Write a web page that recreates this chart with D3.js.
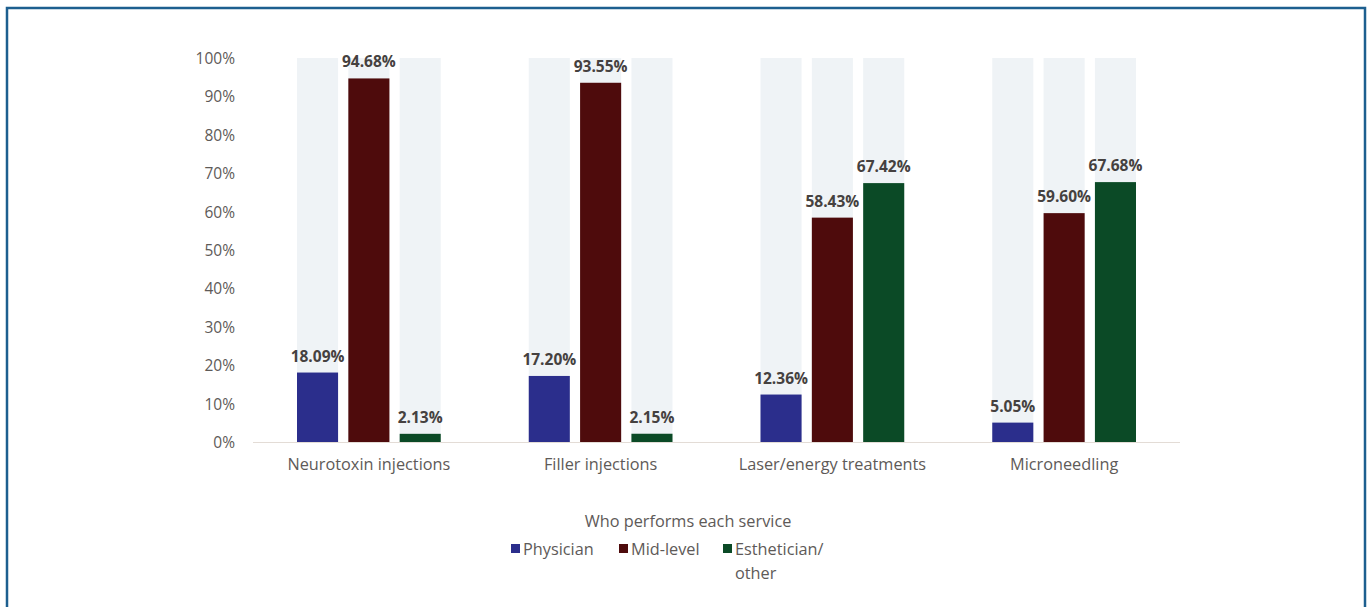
<!DOCTYPE html>
<html>
<head>
<meta charset="utf-8">
<script src="https://cdn.jsdelivr.net/npm/d3@7"></script>
<style>
  html, body { margin: 0; padding: 0; background: #ffffff; }
  svg { display: block; }
  text { font-family: "Open Sans", "Noto Sans", sans-serif; }
</style>
</head>
<body>
<svg id="chart" width="1369" height="607"></svg>
<script>
// Services and the share of practices where each role performs them
const services = ["Neurotoxin injections", "Filler injections", "Laser/energy treatments", "Microneedling"];
const roles = ["Physician", "Mid-level", "Esthetician/other"];
const physician = [18.09, 17.20, 12.36, 5.05];
const midLevel = [94.68, 93.55, 58.43, 59.60];
const esthetician = [2.13, 2.15, 67.42, 67.68];
const yTicks = [0, 10, 20, 30, 40, 50, 60, 70, 80, 90, 100];
const legendTitle = "Who performs each service";

const colors = { "Physician": "#2b2e8c", "Mid-level": "#4e0b0c", "Esthetician/other": "#0b4a26" };
const seriesByRole = { "Physician": physician, "Mid-level": midLevel, "Esthetician/other": esthetician };

const svg = d3.select("#chart");

// frame: left, top and right edges
svg.append("path")
  .attr("d", "M7,607 V8 H1365 V607")
  .attr("fill", "none")
  .attr("stroke", "#1d5f8f")
  .attr("stroke-width", 2.5);

const plot = { left: 253, right: 1180, top: 58, bottom: 442 };

const x0 = d3.scaleBand().domain(services).range([plot.left, plot.right]).paddingInner(0).paddingOuter(0);
const x1 = d3.scaleBand().domain(roles).range([0, 154]).paddingInner(0.2).paddingOuter(0.1);
const y = d3.scaleLinear().domain([0, 100]).range([plot.bottom, plot.top]);

const rows = services.map((s, i) => ({
  service: s,
  values: roles.map(r => ({ role: r, value: seriesByRole[r][i] }))
}));

const groups = svg.append("g").selectAll("g")
  .data(rows).join("g")
  .attr("transform", d => `translate(${x0(d.service) + (x0.bandwidth() - 154) / 2},0)`);

// full-height background tracks behind each bar
groups.selectAll("rect.track")
  .data(d => d.values).join("rect")
  .attr("class", "track")
  .attr("x", d => x1(d.role))
  .attr("width", x1.bandwidth())
  .attr("y", y(100))
  .attr("height", y(0) - y(100))
  .attr("fill", "#eff3f6");

// y axis tick labels
const yAxis = svg.append("g")
  .attr("transform", `translate(${plot.left - 18},0)`)
  .call(d3.axisLeft(y).tickValues(yTicks).tickFormat(d => d + "%").tickSize(0));
yAxis.select(".domain").remove();
yAxis.selectAll("text")
  .attr("fill", "#5e5a58")
  .attr("font-size", 15.5)
  .attr("x", 0)
  .attr("dy", "0.35em");

// baseline
svg.append("line")
  .attr("x1", plot.left).attr("x2", plot.right)
  .attr("y1", plot.bottom + 0.5).attr("y2", plot.bottom + 0.5)
  .attr("stroke", "#e3dcd6").attr("stroke-width", 1.2);

// bars
groups.selectAll("rect.bar")
  .data(d => d.values).join("rect")
  .attr("class", "bar")
  .attr("x", d => x1(d.role))
  .attr("width", x1.bandwidth())
  .attr("y", d => y(d.value))
  .attr("height", d => y(0) - y(d.value))
  .attr("fill", d => colors[d.role]);

// value labels
groups.selectAll("text.val")
  .data(d => d.values).join("text")
  .attr("class", "val")
  .attr("x", d => x1(d.role) + x1.bandwidth() / 2)
  .attr("y", d => y(d.value) - 11)
  .attr("text-anchor", "middle")
  .attr("font-size", 15.5)
  .attr("font-weight", 700)
  .attr("fill", "#454140")
  .text(d => d.value.toFixed(2) + "%");

// category labels
const xAxis = svg.append("g")
  .attr("transform", `translate(0,${plot.bottom})`)
  .call(d3.axisBottom(x0).tickSize(0).tickPadding(16));
xAxis.select(".domain").remove();
xAxis.selectAll("text")
  .attr("fill", "#5e5a58")
  .attr("font-size", 16.3);

// legend
svg.append("text")
  .attr("x", 688).attr("y", 527)
  .attr("text-anchor", "middle")
  .attr("font-size", 16.3)
  .attr("fill", "#5e5a58")
  .text(legendTitle);

const legendX = [511, 619, 723];
const legend = svg.append("g").selectAll("g")
  .data(roles).join("g")
  .attr("transform", (d, i) => `translate(${legendX[i]},550)`);
legend.append("rect")
  .attr("x", 0).attr("y", -6)
  .attr("width", 9).attr("height", 9)
  .attr("fill", d => colors[d]);
legend.append("text")
  .attr("x", 12).attr("y", 5)
  .attr("font-size", 16.3)
  .attr("fill", "#5e5a58")
  .each(function (d) {
    const parts = d === "Esthetician/other" ? ["Esthetician/", "other"] : [d];
    d3.select(this).selectAll("tspan")
      .data(parts).join("tspan")
      .attr("x", 12)
      .attr("dy", (p, i) => i === 0 ? 0 : 24)
      .text(p => p);
  });
</script>
</body>
</html>
